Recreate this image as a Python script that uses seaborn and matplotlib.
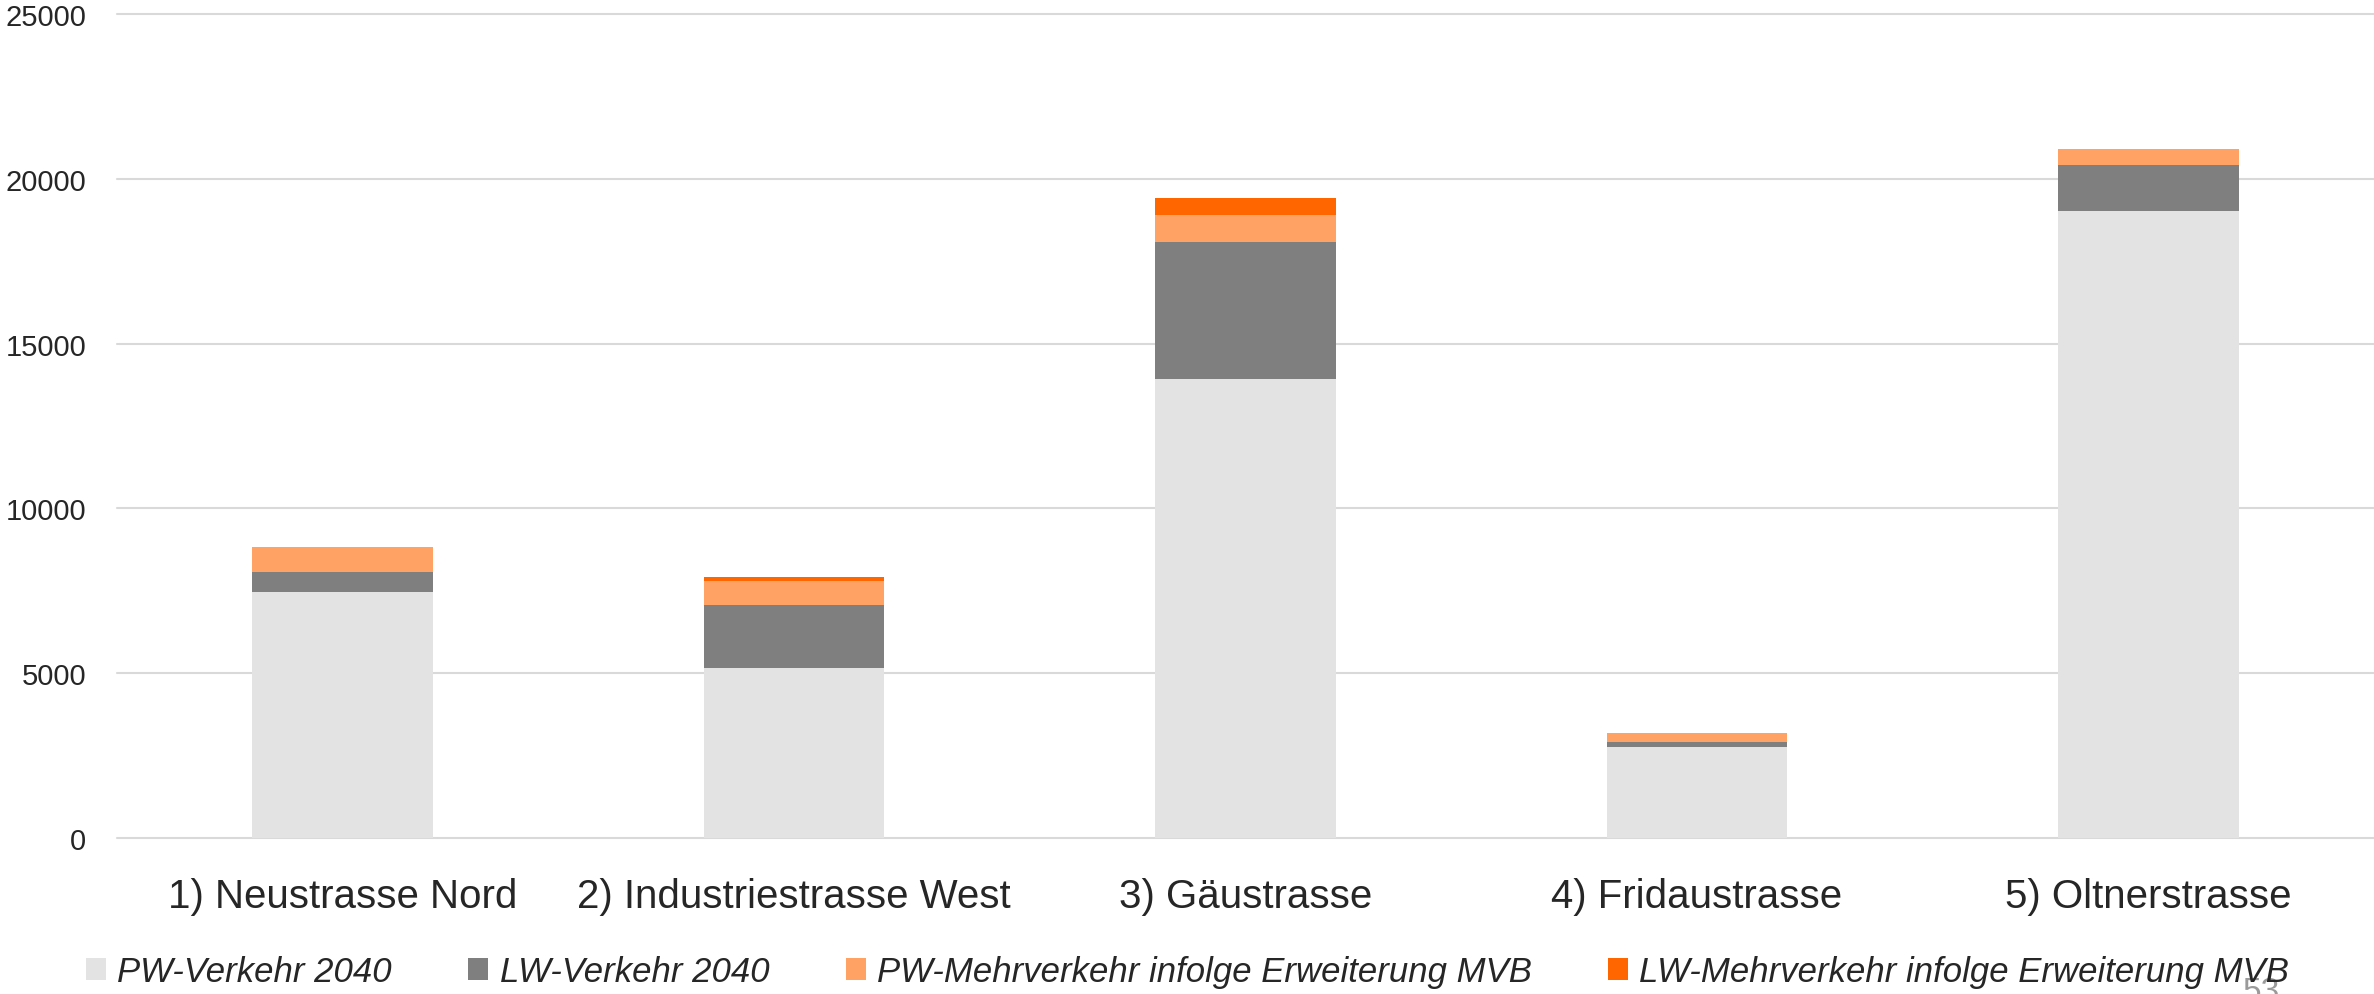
import numpy as np
import pandas as pd
import matplotlib
matplotlib.use("Agg")
import matplotlib.pyplot as plt
import seaborn as sns
from matplotlib.patches import Patch

# Daten
strassen = ['1) Neustrasse Nord', '2) Industriestrasse West', '3) Gäustrasse',
            '4) Fridaustrasse', '5) Oltnerstrasse']
pw_2040 = [7470, 5140, 13920, 2745, 19020]
lw_2040 = [610, 1920, 4180, 160, 1415]
pw_mehr = [740, 730, 810, 280, 470]
lw_mehr = [0, 120, 510, 0, 0]

serien = ['PW-Verkehr 2040', 'LW-Verkehr 2040',
          'PW-Mehrverkehr infolge Erweiterung MVB',
          'LW-Mehrverkehr infolge Erweiterung MVB']
farben = ['#E3E3E3', '#7F7F7F', '#FFA264', '#FF6600']
y_ticks = [0, 5000, 10000, 15000, 20000, 25000]

df = pd.DataFrame({'Strasse': strassen, serien[0]: pw_2040, serien[1]: lw_2040,
                   serien[2]: pw_mehr, serien[3]: lw_mehr})
kum = df[serien].cumsum(axis=1)

sns.set_theme(style="white")
plt.rcParams['font.family'] = ['Liberation Sans', 'DejaVu Sans']

W, H = 2374, 995
fig = plt.figure(figsize=(W / 100, H / 100), dpi=100)
y0, y25 = 838.7, 15.3
ax = fig.add_axes([117 / W, 1 - y0 / H, 1 - 117 / W, (y0 - y25) / H])

# gestapelt: von oben nach unten zeichnen
for i in range(len(serien) - 1, -1, -1):
    sns.barplot(x=df['Strasse'], y=kum[serien[i]], color=farben[i], width=0.4,
                saturation=1, linewidth=0, ax=ax, zorder=3)

ax.set_xlim(-0.5, 4.5)
ax.set_ylim(0, 25000)
ax.set_yticks(y_ticks)
ax.set_yticklabels([str(v) for v in y_ticks])
ax.set_xlabel('')
ax.set_ylabel('')
ax.yaxis.grid(True, color='#D9D9D9', linewidth=1.5)
for gl in ax.get_ygridlines():
    gl.set_clip_on(False)
ax.set_axisbelow(True)
for s in ax.spines.values():
    s.set_visible(False)
ax.tick_params(axis='y', length=0, pad=22, labelsize=21, labelcolor='#262626')
ax.tick_params(axis='x', length=0, pad=28, labelsize=29, labelcolor='#262626')

handles = [Patch(facecolor=c, edgecolor='none') for c in farben]
leg = fig.legend(handles, serien, loc='lower left', bbox_to_anchor=(86 / W, 6 / H),
                 ncol=4, frameon=False, borderpad=0, borderaxespad=0,
                 handlelength=0.58, handleheight=0.6, handletextpad=0.32,
                 columnspacing=2.2, prop={'size': 25, 'style': 'italic'})
for t in leg.get_texts():
    t.set_color('#262626')

# Seitenzahl (im Original unten abgeschnitten)
fig.text(2243 / W, -6 / H, '53', fontsize=24, color='#9A9A9A', ha='left', va='baseline')

fig.savefig('out.png', dpi=100)
